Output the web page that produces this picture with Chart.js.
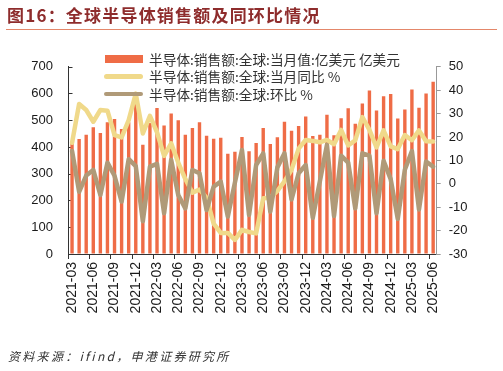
<!DOCTYPE html>
<html><head><meta charset="utf-8">
<style>
html,body{margin:0;padding:0;background:#fff;}
#wrap{position:relative;width:503px;height:371px;overflow:hidden;background:#fff;}
#c{position:absolute;left:0;top:0;}
.t{position:absolute;white-space:nowrap;}
#title{left:7px;top:5px;font:bold 17px 'Noto Sans CJK SC',sans-serif;line-height:19px;color:#8E2C2C;letter-spacing:1.2px;}
#rule{position:absolute;left:6px;top:28.5px;width:491px;height:1.5px;background:#E4876A;}
#src{left:8px;top:349px;font:italic 12px 'Noto Sans CJK SC',sans-serif;line-height:14px;color:#333;letter-spacing:2.3px;}
.lg{position:absolute;font:13.7px 'Noto Sans CJK SC',sans-serif;line-height:17px;color:#333;white-space:nowrap;}
.sw{position:absolute;}
</style>
<script src="https://cdn.jsdelivr.net/npm/chart.js@4.4.1/dist/chart.umd.min.js"></script>
</head><body>
<div id="wrap">
<canvas id="c" width="503" height="371"></canvas>
<div class="t" id="title">图16：全球半导体销售额及同环比情况</div>
<div id="rule"></div>
<div id="legend"></div>
<div class="t" id="src">资料来源：ifind，申港证券研究所</div>
</div>
<script>
// ---- data ----
const months = ['2021-03','2021-04','2021-05','2021-06','2021-07','2021-08','2021-09','2021-10','2021-11','2021-12',
'2022-01','2022-02','2022-03','2022-04','2022-05','2022-06','2022-07','2022-08','2022-09','2022-10','2022-11','2022-12',
'2023-01','2023-02','2023-03','2023-04','2023-05','2023-06','2023-07','2023-08','2023-09','2023-10','2023-11','2023-12',
'2024-01','2024-02','2024-03','2024-04','2024-05','2024-06','2024-07','2024-08','2024-09','2024-10','2024-11','2024-12',
'2025-01','2025-02','2025-03','2025-04','2025-05','2025-06'];
const sales = [412,430,446,474,452,492,505,467,492,568,408,490,546,480,525,500,446,471,492,442,431,434,375,382,437,384,
415,471,411,436,494,461,478,514,441,446,520,444,507,545,487,562,611,536,590,598,506,540,615,547,600,644];
const yoy = [17.5,34.1,31.5,26.5,31.5,31.2,20.8,19.8,27.2,38.5,21.5,29.0,22.0,11.9,17.3,9.0,2.0,-3.8,-2.5,-6.0,-17.0,-21.0,
-21.0,-24.0,-19.7,-20.6,-21.2,-6.2,-6.0,-3.0,1.0,6.0,15.0,18.7,18.3,17.7,18.7,16.9,23.0,16.4,18.5,28.5,23.0,15.5,22.8,16.0,
14.8,20.8,18.6,22.8,18.2,18.0];
const mom = [14.0,-3.4,3.5,5.9,-4.8,9.0,3.4,-7.6,10.5,7.5,-16.0,7.3,8.5,-12.6,10.2,-4.8,-10.5,5.9,4.5,-11.2,-1.2,0.9,
-14.0,0.5,14.4,-13.3,8.0,13.0,-11.9,7.0,13.0,-6.7,4.5,8.0,-14.5,1.0,16.6,-13.8,12.0,9.0,-10.5,13.0,12.0,-12.6,9.8,2.0,
-15.0,6.0,14.0,-11.0,9.5,7.3];
const seriesNames = ['半导体:销售额:全球:当月值:亿美元 亿美元','半导体:销售额:全球:当月同比 %','半导体:销售额:全球:环比 %'];
const leftTicks = [0,700,100];
const rightTicks = [-30,50,10];

const colBar = '#EF6C46', colYoy = '#F0D98A', colMom = '#B09A78';
const tickFont = {family:"'Liberation Sans', Arial, sans-serif", size:13};
const xFont = {family:"'Liberation Sans', Arial, sans-serif", size:14};

// HTML legend
const lg = document.getElementById('legend');
const rows = [
  {name:seriesNames[0], color:colBar, kind:'bar', cy:59},
  {name:seriesNames[1], color:colYoy, kind:'line', cy:76.5},
  {name:seriesNames[2], color:colMom, kind:'line', cy:94}
];
rows.forEach(r=>{
  const sw = document.createElement('div'); sw.className='sw';
  if(r.kind==='bar'){ Object.assign(sw.style,{left:'105px',top:(r.cy-4.5)+'px',width:'38px',height:'8px',background:r.color}); }
  else { Object.assign(sw.style,{left:'104px',top:(r.cy-2.25)+'px',width:'39px',height:'4.5px',borderRadius:'2.5px',background:r.color}); }
  lg.appendChild(sw);
  const tx = document.createElement('div'); tx.className='lg'; tx.textContent=r.name;
  tx.style.left='149px'; tx.style.top=(r.cy-8.5)+'px';
  lg.appendChild(tx);
});

const inwardTicks = {
  id:'inwardTicks',
  beforeDatasetsDraw(chart){
    const s = chart.scales.y, ctx = chart.ctx;
    ctx.save(); ctx.strokeStyle='#333'; ctx.lineWidth=1;
    s.ticks.forEach((t,i)=>{
      const y = Math.round(s.getPixelForTick(i))+0.5;
      ctx.beginPath(); ctx.moveTo(s.right, y); ctx.lineTo(s.right+4, y); ctx.stroke();
    });
    ctx.restore();
  }
};

new Chart(document.getElementById('c'), {
  type:'bar',
  data:{
    labels:months,
    datasets:[
      {type:'bar', label:seriesNames[0], data:sales, backgroundColor:colBar, yAxisID:'y', order:3,
       categoryPercentage:1, barPercentage:0.48},
      {type:'line', label:seriesNames[1], data:yoy, borderColor:colYoy, backgroundColor:colYoy, yAxisID:'y1', order:2,
       borderWidth:4.5, pointRadius:0, tension:0, borderJoinStyle:'round', borderCapStyle:'round'},
      {type:'line', label:seriesNames[2], data:mom, borderColor:colMom, backgroundColor:colMom, yAxisID:'y1', order:1,
       borderWidth:4.5, pointRadius:0, tension:0, borderJoinStyle:'round', borderCapStyle:'round'}
    ]
  },
  options:{
    responsive:false, animation:false, devicePixelRatio:1,
    layout:{padding:{top:66.7,left:0,right:0,bottom:0}},
    plugins:{legend:{display:false}, tooltip:{enabled:false}, title:{display:false}},
    scales:{
      x:{
        offset:true,
        grid:{display:true, drawOnChartArea:false, offset:true, tickLength:5,
              tickColor:(c)=> (c.index%3===0 ? '#333' : 'rgba(0,0,0,0)')},
        border:{display:true,color:'#333',width:1},
        ticks:{autoSkip:false, maxRotation:90, minRotation:90, padding:3, color:'#1a1a1a', font:xFont,
               callback:function(v,i){ return i%3===0 ? months[i] : ''; }},
        afterFit(s){ s.height = 117; }
      },
      y:{
        position:'left', min:leftTicks[0], max:leftTicks[1],
        grid:{display:true, drawOnChartArea:false, drawTicks:false},
        border:{display:true,color:'#333',width:1},
        ticks:{stepSize:leftTicks[2], padding:15.5, color:'#1a1a1a', font:tickFont},
        afterFit(s){ s.width = 68.5; }
      },
      y1:{
        position:'right', min:rightTicks[0], max:rightTicks[1],
        grid:{display:true, drawOnChartArea:false, tickLength:4, tickColor:'#999'},
        border:{display:true,color:'#999',width:1},
        ticks:{stepSize:rightTicks[2], padding:8, color:'#1a1a1a', font:tickFont},
        afterFit(s){ s.width = 66.3; }
      }
    }
  },
  plugins:[inwardTicks]
});
</script>
</body></html>
